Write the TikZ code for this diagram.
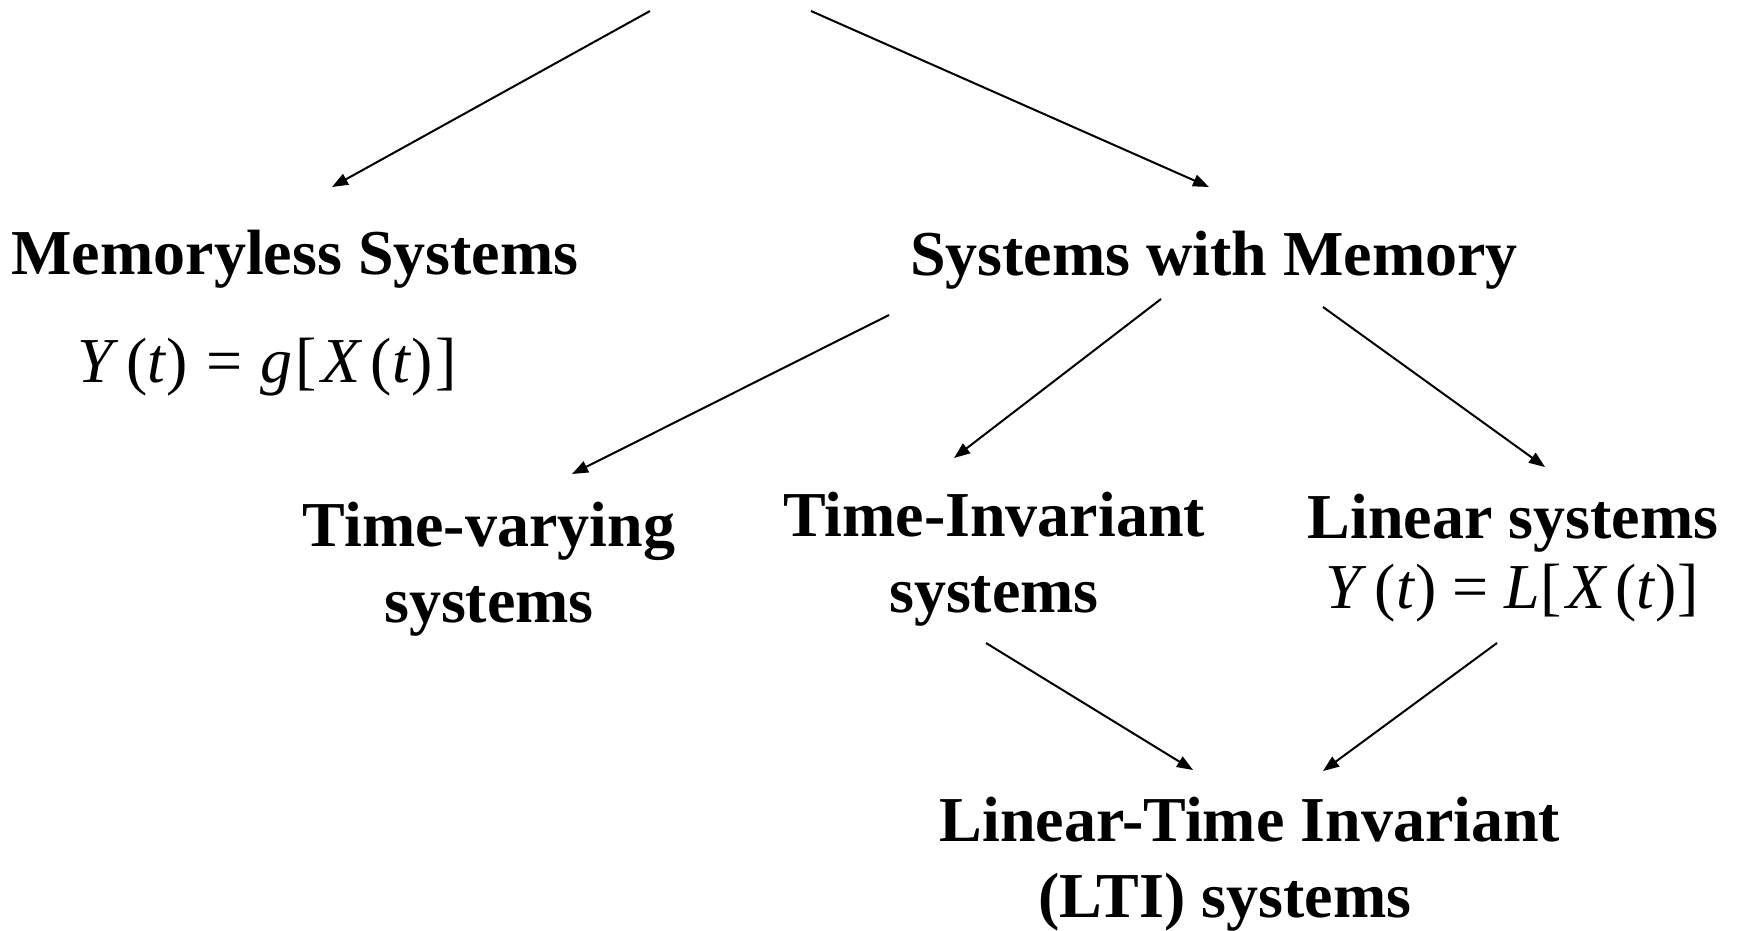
\documentclass[tikz,border=0pt]{standalone}
\usepackage{fontspec}
\setmainfont{Liberation Serif}
\usetikzlibrary{arrows.meta}
\begin{document}
\begin{tikzpicture}[x=1pt,y=-1pt,
  lbl/.style={font=\fontsize{64}{76}\selectfont\bfseries, inner sep=0pt, anchor=base, align=center},
  eq/.style={font=\fontsize{64}{76}\selectfont, inner sep=0pt, anchor=base},
  arr/.style={-{Triangle[length=16pt,width=12pt]}, line width=2pt}]
\useasboundingbox (0,0) rectangle (1738,930);
% nodes (base anchor of a two-line node = baseline of its last line)
\node[lbl] (mless) at (295,274) {Memoryless Systems};
\node[lbl] (swm) at (1214,275) {Systems with Memory};
\node[eq] (eqg) at (267,382) {\textit{Y}\hspace{8pt}(\textit{t})\hspace{18pt}=\hspace{18pt}\textit{g}\hspace{3pt}[\hspace{5pt}\textit{X}\hspace{8pt}(\textit{t})\hspace{3pt}]};
\node[lbl] (tv) at (489,622) {Time-varying\\systems};
\node[lbl] (ti) at (994,612) {Time-Invariant\\systems};
\node[lbl] (lin) at (1513,538) {Linear systems};
\node[eq] (eql) at (1512,608) {\textit{Y}\hspace{8pt}(\textit{t})\hspace{16pt}=\hspace{16pt}\textit{L}[\hspace{5pt}\textit{X}\hspace{8pt}(\textit{t})]};
\node[lbl] (lti) at (1250,917) {Linear-Time Invariant\\(LTI) systems\hspace*{50pt}};
% connector end points
\coordinate (topL) at (650,11);
\coordinate (topR) at (811,11);
\coordinate (mlessIn) at (332,187);
\coordinate (swmIn) at (1209,187);
\coordinate (swmA) at (889,315);
\coordinate (swmB) at (1161,299);
\coordinate (swmC) at (1323,307);
\coordinate (tvIn) at (572,474);
\coordinate (tiIn) at (954,458);
\coordinate (linIn) at (1545,467);
\coordinate (tiOut) at (986,643);
\coordinate (linOut) at (1497,643);
\coordinate (ltiA) at (1193,770);
\coordinate (ltiB) at (1323,771);
% connectors
\draw[arr] (topL) -- (mlessIn);
\draw[arr] (topR) -- (swmIn);
\draw[arr] (swmA) -- (tvIn);
\draw[arr] (swmB) -- (tiIn);
\draw[arr] (swmC) -- (linIn);
\draw[arr] (tiOut) -- (ltiA);
\draw[arr] (linOut) -- (ltiB);
\end{tikzpicture}
\end{document}
